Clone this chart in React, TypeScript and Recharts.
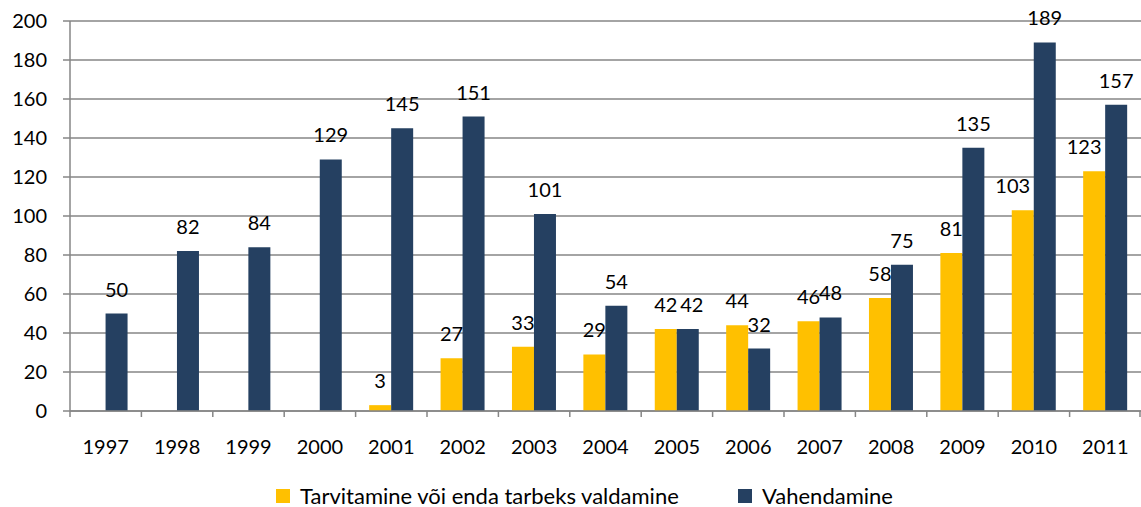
import React from "react";
import { BarChart, Bar, XAxis, YAxis, CartesianGrid, Legend, LabelList } from "recharts";

const years = ["1997","1998","1999","2000","2001","2002","2003","2004","2005","2006","2007","2008","2009","2010","2011"];
const tarvitamine: (number | null)[] = [null, null, null, null, 3, 27, 33, 29, 42, 44, 46, 58, 81, 103, 123];
const vahendamine: number[] = [50, 82, 84, 129, 145, 151, 101, 54, 42, 32, 48, 75, 135, 189, 157];
const yTicks = [0, 20, 40, 60, 80, 100, 120, 140, 160, 180, 200];
const seriesNames = ["Tarvitamine või enda tarbeks valdamine", "Vahendamine"];

const YELLOW = "#FFC000";
const BLUE = "#254061";
const GRID = "#868686";
const FONT = "Lato, 'Open Sans', sans-serif";
const CHART_W = 1141;
const Y_AXIS_W = 70;
const HALF_BAND = (CHART_W - Y_AXIS_W) / years.length / 2;

const data = years.map((y, i) => ({ year: y, t: tarvitamine[i], v: vahendamine[i] }));

const makeLabel = (isYellow: boolean) => (props: any) => {
  const { x, y, width, value, index } = props;
  if (value === null || value === undefined) return null;
  let dx = 0;
  if (isYellow && value >= 100) dx = -10;
  if (!isYellow && tarvitamine[index] === value) dx = 4;
  return (
    <text x={x + width / 2 + dx} y={y - 17} textAnchor="middle" fill="#000" fontSize={20} fontFamily={FONT}>
      {value}
    </text>
  );
};

const AXIS_Y = 411;

const XTick = (props: any) => {
  const { x, y, payload, index } = props;
  const half = payload && payload.offset ? payload.offset : HALF_BAND;
  const isLast = index === years.length - 1;
  return (
    <g>
      <line x1={x - half} x2={x - half} y1={AXIS_Y} y2={AXIS_Y + 6} stroke={GRID} strokeWidth={1.5} />
      {isLast && <line x1={x + half - 1} x2={x + half - 1} y1={AXIS_Y} y2={AXIS_Y + 6} stroke={GRID} strokeWidth={1.5} />}
      <text x={x} y={y} dy="0.71em" textAnchor="middle" fill="#000" fontSize={20} fontFamily={FONT}>
        {payload.value}
      </text>
    </g>
  );
};

const LegendContent = () => (
  <div style={{ height: 46, position: "relative", fontFamily: FONT, fontSize: 22, color: "#000" }}>
    <div style={{ position: "absolute", left: 276, top: 28, display: "flex", alignItems: "center" }}>
      <span style={{ width: 14, height: 14, background: YELLOW, display: "inline-block", marginRight: 10 }} />
      <span style={{ lineHeight: "14px", whiteSpace: "nowrap" }}>{seriesNames[0]}</span>
    </div>
    <div style={{ position: "absolute", left: 738, top: 28, display: "flex", alignItems: "center" }}>
      <span style={{ width: 14, height: 14, background: BLUE, display: "inline-block", marginRight: 10 }} />
      <span style={{ lineHeight: "14px", whiteSpace: "nowrap" }}>{seriesNames[1]}</span>
    </div>
  </div>
);

export default function App() {
  return (
    <div style={{ width: CHART_W, height: 507, background: "#fff" }}>
      <style>{`body{margin:0}`}</style>
      <BarChart
        width={CHART_W}
        height={507}
        data={data}
        margin={{ top: 21, right: 0, left: 0, bottom: 0 }}
        barCategoryGap="19%"
        barGap={0}
      >
        <CartesianGrid vertical={false} stroke={GRID} strokeWidth={1.5} />
        <XAxis
          dataKey="year"
          height={50}
          tickLine={false}
          axisLine={{ stroke: GRID, strokeWidth: 1.5 }}
          tickMargin={23}
          tick={<XTick />}
          interval={0}
        />
        <YAxis
          width={Y_AXIS_W}
          domain={[0, 200]}
          ticks={yTicks}
          tickSize={7}
          tickMargin={16}
          tickLine={{ stroke: GRID, strokeWidth: 1.5 }}
          axisLine={{ stroke: GRID, strokeWidth: 1.5 }}
          tick={{ fill: "#000", fontSize: 20, fontFamily: FONT }}
          interval={0}
        />
        <Legend verticalAlign="bottom" content={<LegendContent />} />
        <Bar dataKey="t" name={seriesNames[0]} fill={YELLOW} isAnimationActive={false}>
          <LabelList dataKey="t" content={makeLabel(true)} />
        </Bar>
        <Bar dataKey="v" name={seriesNames[1]} fill={BLUE} isAnimationActive={false}>
          <LabelList dataKey="v" content={makeLabel(false)} />
        </Bar>
      </BarChart>
    </div>
  );
}
